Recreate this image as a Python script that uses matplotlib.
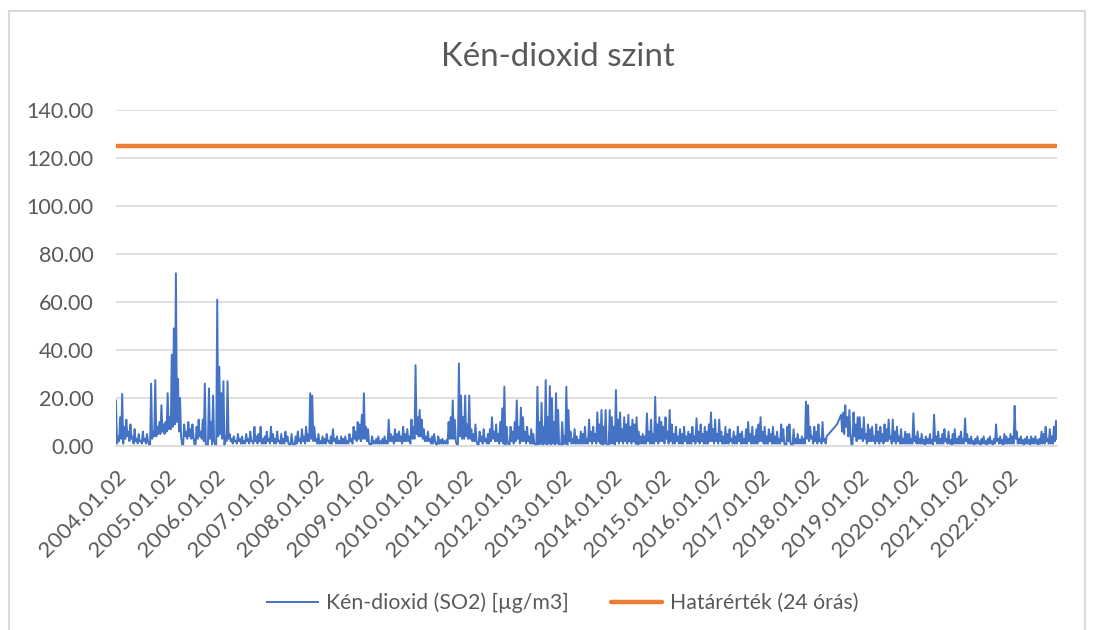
import matplotlib
matplotlib.use("Agg")
import matplotlib.pyplot as plt
import matplotlib.dates as mdates
from matplotlib.ticker import FormatStrFormatter
import pandas as pd

# SO2 readings: 24 local highs a year (about every half month)
so2_2004 = [19, 4, 12, 21.7, 8, 11, 6, 9, 4, 7, 3, 5, 2, 6, 3, 5, 0.5, 26, 6, 27.5, 8, 10, 17, 9]
so2_2005 = [10, 22, 12, 38, 49, 72, 28, 20, 0.5, 9, 6, 10, 7, 9, 0.5, 8, 11, 6, 11, 26, 0.5, 24, 10, 21]
so2_2006 = [0.5, 61, 33, 22, 27, 4, 27, 5, 3, 4, 2, 5, 3, 4, 2, 5, 3, 6, 2, 8, 4, 5, 8, 3]
so2_2007 = [4, 6, 3, 8, 5, 3, 6, 2, 5, 3, 6, 4, 0.5, 5, 0.5, 4, 6, 3, 7, 4, 8, 5, 22, 21]
so2_2008 = [8, 3, 5, 2, 4, 3, 5, 2, 4, 7, 3, 4, 2, 4, 3, 4, 2, 5, 3, 8, 6, 10, 9, 13]
so2_2009 = [22, 8, 7, 0.5, 4, 2, 3, 4, 2, 3, 4, 2, 11, 5, 4, 7, 5, 6, 4, 8, 5, 7, 4, 11]
so2_2010 = [8, 33.7, 12, 15, 11, 7, 4, 6, 3, 4, 5, 0.5, 4, 2.5, 3, 2, 2.5, 10, 12, 19, 11, 0.5, 34.4, 21]
so2_2011 = [12, 21, 9, 21, 7, 5, 9, 0.5, 6, 4, 7, 3, 5, 7, 12, 6, 9, 5, 10, 15.7, 24.7, 8, 0.5, 8]
so2_2012 = [6, 10, 19, 8, 16, 12, 6, 8, 4, 7, 5, 0.5, 24.7, 10, 18, 8, 27.5, 12, 25, 20, 10, 22, 15, 0.5]
so2_2013 = [10, 4, 24.7, 15, 6, 3, 7, 4, 2.5, 6, 5, 8, 3, 11, 6, 8, 5, 14, 9, 15, 8, 15, 0.5, 15]
so2_2014 = [12, 8, 23.3, 11, 14, 7, 12, 9, 13, 8, 11, 9, 12, 6, 4, 5, 4, 13.6, 6, 11, 5, 20.5, 9, 12]
so2_2015 = [10, 8, 12, 6, 15, 9, 5, 8, 4, 7, 5, 8, 4, 6, 5, 8, 4, 11.5, 6, 9, 5, 8, 6, 9]
so2_2016 = [14, 7, 11, 5, 11, 6, 4, 8, 5, 7, 3, 6, 4, 8, 5, 6, 3, 7, 10, 5, 8, 4, 7, 9]
so2_2017 = [12, 6, 8, 4, 7, 5, 8, 4, 6, 3, 9, 7, 0.5, 8, 9, 0.5, 7, 3, 5, 2.5, 4, 3, 18.5, 17]
so2_2018 = [8, 4, 8, 6, 9, 3, 10, 3, 4, 5, 6, 7, 8, 9, 11, 13, 14, 17, 12, 15, 0.5, 14, 9, 12]
so2_2019 = [12, 7, 12, 5, 9, 7, 8, 4, 9, 6, 8, 5, 9, 7, 11, 4, 11, 6, 8, 4, 7, 3, 6, 5]
so2_2020 = [5, 3, 13.6, 4, 6, 3, 5, 2.5, 4, 3, 5, 2.5, 13, 4, 6, 3, 5, 7, 3, 6, 2.5, 5, 7, 3]
so2_2021 = [4, 6, 3, 11.5, 5, 3, 4, 2, 3, 4, 2, 3, 4, 2, 3, 4, 2, 3, 9, 3, 4, 2.5, 5, 4]
so2_2022 = [3, 5, 4, 16.7, 6, 3, 4, 2.5, 3, 4, 2.5, 4, 3, 4, 2.5, 3, 6, 5, 8, 3, 7, 4, 8, 10.5]

# the dips between those highs (lower edge of the blue band)
low_2004 = [1, 2, 3, 1, 3, 4, 2, 3, 1, 2, 1, 2, 1, 2, 1, 2, 0.5, 3, 4, 4, 5, 5, 6, 5]
low_2005 = [6, 7, 7, 8, 9, 10, 6, 4, 0.5, 4, 3, 4, 3, 4, 0.5, 3, 4, 3, 2, 0.5, 0.5, 3, 0.5, 2]
low_2006 = [0.5, 4, 5, 3, 0.5, 2, 3, 2, 1, 2, 1, 2, 1, 1, 1, 2, 1, 2, 1, 2, 1, 2, 1, 1]
low_2007 = [1, 2, 1, 2, 1, 1, 2, 1, 1, 1, 2, 1, 0.5, 1, 0.5, 1, 2, 1, 2, 1, 2, 2, 3, 2]
low_2008 = [2, 1, 1, 1, 1, 1, 2, 1, 1, 2, 1, 1, 1, 1, 1, 1, 1, 2, 1, 3, 2, 3, 2, 3]
low_2009 = [3, 2, 1, 0.5, 1, 1, 1, 1, 1, 1, 1, 1, 2, 2, 1, 2, 2, 2, 1, 2, 2, 2, 1, 3]
low_2010 = [3, 5, 4, 4, 3, 2, 2, 2, 1, 1, 2, 0.5, 1, 1, 1, 1, 1, 3, 3, 3, 2, 0.5, 4, 3]
low_2011 = [3, 4, 3, 3, 2, 2, 2, 0.5, 2, 1, 2, 1, 1, 2, 3, 2, 2, 1, 2, 1, 0.5, 2, 0.5, 2]
low_2012 = [1, 2, 3, 1, 2, 2, 1, 2, 1, 1, 1, 0.5, 0.5, 1, 0.5, 1, 0.5, 1, 0.5, 1, 0.5, 1, 0.5, 0.5]
low_2013 = [0.5, 1, 0.5, 2, 1, 1, 1, 1, 1, 1, 1, 1, 1, 2, 1, 2, 1, 2, 1, 0.5, 1, 0.5, 0.5, 1]
low_2014 = [1, 0.5, 2, 1, 2, 1, 2, 1, 2, 1, 2, 1, 0.5, 1, 1, 1, 1, 2, 1, 1, 1, 2, 1, 2]
low_2015 = [2, 1, 3, 1, 2, 1, 1, 2, 1, 1, 1, 2, 1, 1, 1, 2, 1, 2, 1, 2, 1, 1, 1, 2]
low_2016 = [2, 1, 2, 1, 2, 1, 1, 1, 1, 2, 1, 1, 1, 2, 1, 1, 1, 1, 2, 1, 1, 1, 1, 2]
low_2017 = [2, 1, 1, 1, 2, 1, 1, 1, 1, 1, 2, 1, 0.5, 2, 1, 0.5, 1, 1, 1, 1, 1, 1, 3, 2]
low_2018 = [3, 1, 2, 1, 2, 1, 2, 1, 4.5, 5.5, 6.5, 7.5, 8.5, 10, 12, 6, 5, 8, 4, 5, 0.5, 4, 2, 3]
low_2019 = [3, 2, 3, 1, 2, 2, 2, 1, 2, 1, 2, 1, 2, 2, 3, 1, 2, 1, 2, 1, 1, 1, 1, 1]
low_2020 = [1, 1, 2, 1, 1, 1, 1, 0.5, 1, 1, 1, 0.5, 2, 1, 1, 1, 1, 2, 1, 1, 0.5, 1, 1, 1]
low_2021 = [1, 1, 1, 2, 1, 1, 1, 0.5, 1, 1, 0.5, 1, 1, 0.5, 1, 1, 0.5, 1, 2, 1, 1, 0.5, 1, 1]
low_2022 = [1, 1, 1, 3, 1, 1, 1, 0.5, 1, 1, 0.5, 1, 1, 1, 0.5, 1, 1, 1, 2, 1, 1, 1, 2, 3]

limit_24h = 125.0
start_date = "2004-01-02"
end_date = "2022-12-31"
tick_years = list(range(2004, 2023))

highs = (so2_2004 + so2_2005 + so2_2006 + so2_2007 + so2_2008 + so2_2009 + so2_2010
         + so2_2011 + so2_2012 + so2_2013 + so2_2014 + so2_2015 + so2_2016 + so2_2017
         + so2_2018 + so2_2019 + so2_2020 + so2_2021 + so2_2022)
lows = (low_2004 + low_2005 + low_2006 + low_2007 + low_2008 + low_2009 + low_2010
        + low_2011 + low_2012 + low_2013 + low_2014 + low_2015 + low_2016 + low_2017
        + low_2018 + low_2019 + low_2020 + low_2021 + low_2022)
so2 = [v for pair in zip(highs, lows) for v in pair]
dates = pd.date_range(start_date, end_date, periods=len(so2))
limit = [limit_24h] * len(so2)

plt.rcParams['font.family'] = ['Lato', 'DejaVu Sans']
text_col = '#595959'
grid_col = '#D9D9D9'

fig = plt.figure(figsize=(10.96, 6.30), dpi=100)
ax = fig.add_axes([116 / 1096, 1 - 446 / 630, (1057 - 116) / 1096, (446 - 110) / 630])

ax.plot(dates, so2, color='#4472C4', lw=1.4, label='Kén-dioxid (SO2) [µg/m3]')
ax.plot(dates, limit, color='#ED7D31', lw=3.2, solid_capstyle='round', label='Határérték (24 órás)')

ax.set_ylim(0, 140)
ax.set_yticks(range(0, 141, 20))
ax.yaxis.set_major_formatter(FormatStrFormatter('%.2f'))
ax.set_xlim(pd.Timestamp(start_date), pd.Timestamp(end_date))
ax.set_xticks([pd.Timestamp(f"{y}-01-02") for y in tick_years])
ax.xaxis.set_major_formatter(mdates.DateFormatter('%Y.%m.%d'))

ax.grid(axis='y', color=grid_col, lw=1.2)
ax.set_axisbelow(True)
for side in ['top', 'right', 'left']:
    ax.spines[side].set_visible(False)
ax.spines['bottom'].set_color(grid_col)
ax.spines['bottom'].set_linewidth(1.2)
ax.tick_params(axis='y', length=0, labelsize=15.5, labelcolor=text_col, pad=16)
ax.tick_params(axis='x', length=0, labelsize=16, labelcolor=text_col, pad=15)
for lbl in ax.get_xticklabels():
    lbl.set_rotation(45)
    lbl.set_ha('right')
    lbl.set_rotation_mode('anchor')

fig.suptitle('Kén-dioxid szint', x=558 / 1096, y=1 - 57 / 630, va='center',
             fontsize=23.8, color=text_col)

leg = ax.legend(loc='center', bbox_to_anchor=(563 / 1096, 1 - 603 / 630), bbox_transform=fig.transFigure,
                ncol=2, frameon=False, fontsize=15.3, labelcolor=text_col,
                handlelength=2.4, handletextpad=0.38, columnspacing=2.0)

# chart border
fig.add_artist(plt.Rectangle((9 / 1096, -0.05), (1085 - 9) / 1096, 1.05 - 11 / 630,
                             transform=fig.transFigure, fill=False, edgecolor=grid_col, lw=1.5))

fig.savefig('out.png', dpi=100)
